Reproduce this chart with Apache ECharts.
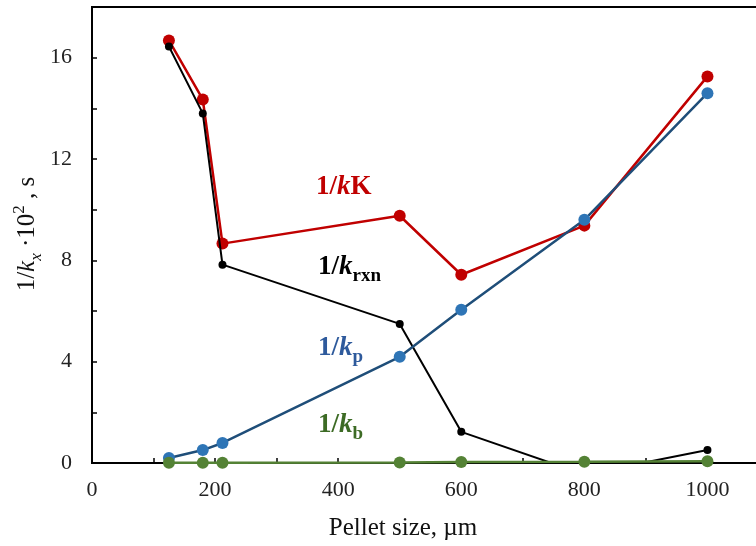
<!DOCTYPE html>
<html>
<head>
<meta charset="utf-8">
<script src="https://cdn.jsdelivr.net/npm/echarts@6/dist/echarts.min.js"></script>
<style>
  html, body { margin: 0; padding: 0; background: #fff; }
  #chart { width: 756px; height: 546px; }
</style>
</head>
<body>
<div id="chart"></div>
<script>
// Pellet sizes, µm
const pelletSize = [125, 180, 212, 500, 600, 800, 1000];
// Resistances, 1/k_x · 10^2, s
const invKK   = [16.68, 14.35, 8.66, 9.76, 7.43, 9.37, 15.26];
const invKrxn = [16.44, 13.80, 7.83, 5.49, 1.23, -0.45, 0.51];
const invKp   = [0.20, 0.51, 0.79, 4.19, 6.05, 9.60, 14.60];
const invKb   = [0.01, 0.01, 0.01, 0.02, 0.04, 0.05, 0.07];

const xTicks = { min: 0, max: 1100, step: 100, labelStep: 200 };
const yTicks = { min: 0, max: 18, step: 2, labelStep: 4 };

const serif = '"Liberation Serif", "Times New Roman", serif';
const pairs = (ys) => pelletSize.map((x, i) => [x, ys[i]]);

function lineSeries(name, ys, lineColor, markColor, width, size, z) {
  return {
    name, type: 'line', data: pairs(ys), clip: true, z,
    symbol: 'circle', symbolSize: size,
    lineStyle: { color: lineColor, width },
    itemStyle: { color: markColor },
    emphasis: { disabled: true },
    animation: false
  };
}

const chart = echarts.init(document.getElementById('chart'), null, { renderer: 'canvas' });

const labelRich = (color) => ({
  b: { fontFamily: serif, fontSize: 27, fontWeight: 'bold', fill: color, lineHeight: 34, verticalAlign: 'bottom' },
  i: { fontFamily: serif, fontSize: 27, fontWeight: 'bold', fontStyle: 'italic', fill: color, lineHeight: 34, verticalAlign: 'bottom' },
  s: { fontFamily: serif, fontSize: 19, fontWeight: 'bold', fill: color, lineHeight: 34, verticalAlign: 'bottom', padding: [0, 0, -5, 0] }
});

// Curve names, left aligned; y is the bottom of the text line
function curveLabel(x, y, text, color) {
  return {
    type: 'text', x, y,
    style: {
      text, fill: color, align: 'left', verticalAlign: 'bottom',
      rich: labelRich(color)
    }
  };
}

chart.setOption({
  animation: false,
  backgroundColor: '#fff',
  grid: {
    left: 92, top: 7, width: 677, height: 456,
    outerBoundsMode: 'none', containLabel: false,
    show: true, borderColor: '#000', borderWidth: 2, backgroundColor: 'transparent'
  },
  xAxis: {
    type: 'value', min: xTicks.min, max: xTicks.max, interval: xTicks.step,
    axisLine: { show: true, lineStyle: { color: '#000', width: 2 } },
    axisTick: { show: true, inside: true, length: 5, lineStyle: { color: '#000', width: 1.5 } },
    axisLabel: {
      margin: 16, fontFamily: serif, fontSize: 22, color: '#222',
      formatter: (v) => (v % xTicks.labelStep === 0 ? String(v) : '')
    },
    splitLine: { show: false }
  },
  yAxis: {
    type: 'value', min: yTicks.min, max: yTicks.max, interval: yTicks.step,
    axisLine: { show: true, lineStyle: { color: '#000', width: 2 } },
    axisTick: { show: true, inside: true, length: 5, lineStyle: { color: '#000', width: 1.5 } },
    axisLabel: {
      margin: 20, fontFamily: serif, fontSize: 22, color: '#222',
      formatter: (v) => (v % yTicks.labelStep === 0 && v < yTicks.max ? String(v) : '')
    },
    splitLine: { show: false }
  },
  series: [
    lineSeries('1/kK', invKK, '#C00000', '#C00000', 2.5, 12, 2),
    lineSeries('1/krxn', invKrxn, '#000000', '#000000', 2, 8, 3),
    lineSeries('1/kp', invKp, '#1F4E79', '#2E75B6', 2.5, 12, 4),
    lineSeries('1/kb', invKb, '#548235', '#548235', 2.5, 12, 5)
  ],
  graphic: [
    curveLabel(316, 201, '{b|1/}{i|k}{b|K}', '#C00000'),
    curveLabel(318, 281, '{b|1/}{i|k}{s|rxn}', '#000000'),
    curveLabel(318, 362, '{b|1/}{i|k}{s|p}', '#2E5A9C'),
    curveLabel(318, 439, '{b|1/}{i|k}{s|b}', '#3D6B25'),
    {
      type: 'text', x: 403, y: 528,
      style: {
        text: 'Pellet size, µm', fill: '#111', align: 'center', verticalAlign: 'middle',
        fontFamily: serif, fontSize: 25
      }
    },
    {
      type: 'text', x: 24, y: 234, rotation: Math.PI / 2,
      style: {
        text: '{n|1/}{i|k}{sb|x}{n| ·10}{sp|2}{n| , s}',
        fill: '#111', align: 'center', verticalAlign: 'middle',
        rich: {
          n: { fontFamily: serif, fontSize: 25, fill: '#111', lineHeight: 32, verticalAlign: 'bottom' },
          i: { fontFamily: serif, fontSize: 25, fontStyle: 'italic', fill: '#111', lineHeight: 32, verticalAlign: 'bottom' },
          sb: { fontFamily: serif, fontSize: 17, fontStyle: 'italic', fill: '#111', lineHeight: 32, verticalAlign: 'bottom', padding: [0, 0, -5, 0] },
          sp: { fontFamily: serif, fontSize: 17, fill: '#111', lineHeight: 32, verticalAlign: 'bottom', padding: [0, 0, 12, 0] }
        }
      }
    }
  ]
});
</script>
</body>
</html>
